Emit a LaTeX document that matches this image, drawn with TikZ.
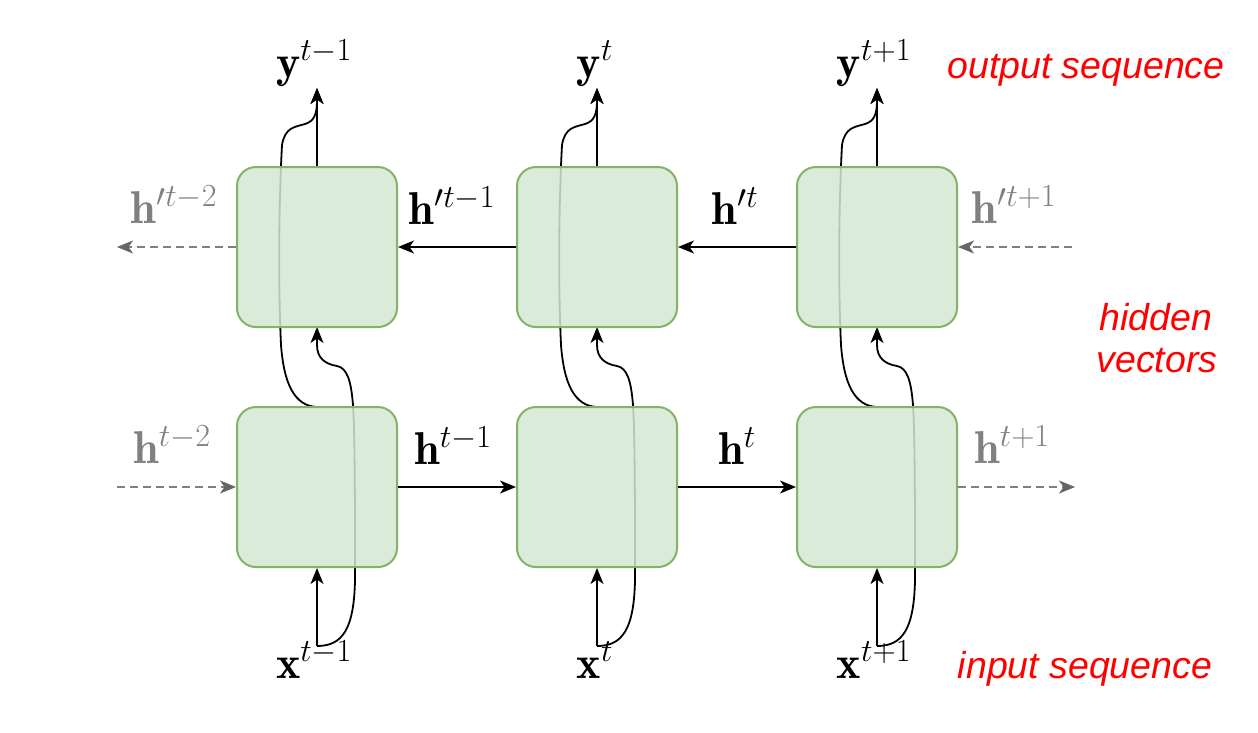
\RequirePackage{fix-cm}
\documentclass[tikz,border=0pt]{standalone}
\usepackage{fontspec}
\newfontfamily\notefont{Liberation Sans}
\usetikzlibrary{arrows.meta}
\definecolor{boxfill}{HTML}{D5E8D4}
\definecolor{boxline}{HTML}{82B366}
\definecolor{notered}{HTML}{FF0000}
\definecolor{faded}{HTML}{808080}
\definecolor{fadedtip}{HTML}{666666}
\tikzset{
  cell/.style={draw=boxline, line width=2pt, fill=boxfill, fill opacity=0.85,
    rounded corners=19pt, minimum width=160pt, minimum height=160pt, inner sep=0pt},
  arr/.style={line width=2pt, black, -{Stealth[length=16pt, width=13pt, inset=4.5pt]}},
  curvearr/.style={line width=1.8pt, black, -{Stealth[length=16pt, width=13pt, inset=4.5pt]}},
  dasharr/.style={line width=1.6pt, faded, dash pattern=on 8pt off 5pt,
    -{Stealth[length=16pt, width=13pt, inset=4.5pt, fadedtip]}},
  mathlbl/.style={inner sep=0pt, anchor=base, font=\fontsize{46}{52}\selectfont},
  fadedlbl/.style={mathlbl, text=faded},
  note/.style={inner sep=0pt, anchor=base, text=notered,
    font=\notefont\itshape\fontsize{37.5}{43}\selectfont, align=center}
}
\begin{document}
\begin{tikzpicture}[x=1pt,y=-1pt]
\useasboundingbox (0,0) rectangle (1258,732);

% coordinates for free ends
\foreach \i/\cx in {1/317,2/597,3/877}{
  \coordinate (xs\i) at (\cx,646);
  \coordinate (yt\i) at (\cx,88);
}
\coordinate (dul) at (117,247);
\coordinate (dur) at (1072,247);
\coordinate (dll) at (117,487);
\coordinate (dlr) at (1075,487);

% box positions (named coordinates for curves drawn before boxes)
\foreach \i/\cx in {1/317,2/597,3/877}{
  \coordinate (ub\i) at (\cx,327);
  \coordinate (lt\i) at (\cx,407);
}

% skip curves (drawn under boxes)
\foreach \i/\cx in {1/317,2/597,3/877}{
  % input -> backward cell
  \draw[curvearr] (xs\i) .. controls (\cx+25,646) and (\cx+37,630) .. (\cx+38,580)
     .. controls (\cx+38,500) and (\cx+38,440) .. (\cx+36,405)
     .. controls (\cx+34,380) and (\cx+30,368) .. (\cx+20,366)
     .. controls (\cx+8,364) and (\cx,358) .. (\cx,345) -- (ub\i);
  % forward cell -> output
  \draw[curvearr] (lt\i) .. controls (\cx-22,406) and (\cx-33,385) .. (\cx-36,345)
     .. controls (\cx-39,280) and (\cx-38,200) .. (\cx-35,145)
     .. controls (\cx-32,127) and (\cx-22,127) .. (\cx-12,124)
     .. controls (\cx-3,121) and (\cx,115) .. (\cx,100) -- (yt\i);
}

% cells
\node[cell] (u1) at (317,247) {};
\node[cell] (u2) at (597,247) {};
\node[cell] (u3) at (877,247) {};
\node[cell] (l1) at (317,487) {};
\node[cell] (l2) at (597,487) {};
\node[cell] (l3) at (877,487) {};

% vertical arrows
\foreach \i in {1,2,3}{
  \draw[arr] (xs\i) -- (l\i.south);
  \draw[arr] (u\i.north) -- (yt\i);
}

% horizontal arrows
\draw[arr] (l1.east) -- (l2.west);
\draw[arr] (l2.east) -- (l3.west);
\draw[arr] (u2.west) -- (u1.east);
\draw[arr] (u3.west) -- (u2.east);
\draw[dasharr] (u1.west) -- (dul);
\draw[dasharr] (dur) -- (u3.east);
\draw[dasharr] (dll) -- (l1.west);
\draw[dasharr] (l3.east) -- (dlr);

% output / input labels
\node[mathlbl] (y1) at (314,77) {$\mathbf{y}^{t-1}$};
\node[mathlbl] (y2) at (595,77) {$\mathbf{y}^{t}$};
\node[mathlbl] (y3) at (874,77) {$\mathbf{y}^{t+1}$};
\node[mathlbl] (x1) at (314,678) {$\mathbf{x}^{t-1}$};
\node[mathlbl] (x2) at (595,678) {$\mathbf{x}^{t}$};
\node[mathlbl] (x3) at (874,678) {$\mathbf{x}^{t+1}$};

% hidden labels
\node[mathlbl] (hb1) at (452,224) {$\mathbf{h}'^{t-1}$};
\node[mathlbl] (hb2) at (735,224) {$\mathbf{h}'^{t}$};
\node[fadedlbl] (hb0) at (174,223) {$\mathbf{h}'^{t-2}$};
\node[fadedlbl] (hb3) at (1014,223) {$\mathbf{h}'^{t+1}$};
\node[mathlbl] (hf1) at (453,464) {$\mathbf{h}^{t-1}$};
\node[mathlbl] (hf2) at (737,464) {$\mathbf{h}^{t}$};
\node[fadedlbl] (hf0) at (172,463) {$\mathbf{h}^{t-2}$};
\node[fadedlbl] (hf3) at (1012,463) {$\mathbf{h}^{t+1}$};

% notes
\node[note] (n1) at (1086,78) {output sequence};
\node[note] (n2) at (1156,330) {hidden};
\node[note] (n3) at (1157,372) {vectors};
\node[note] (n4) at (1085,678) {input sequence};
\end{tikzpicture}
\end{document}
